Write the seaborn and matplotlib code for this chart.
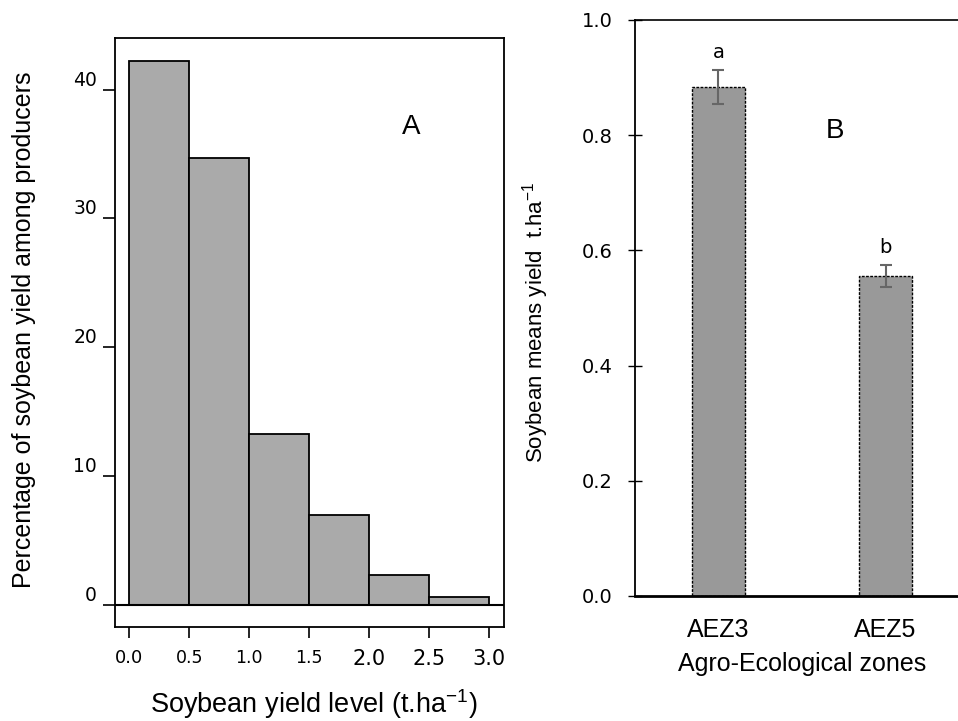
### Soybean yield figure - A: yield level distribution, B: mean yield by AEZ

import seaborn as sns
import matplotlib.pyplot as plt
import pandas as pd
import numpy as np

# --- data ---
bin_edges = [0.0, 0.5, 1.0, 1.5, 2.0, 2.5, 3.0]
pct_producers = [42.2, 34.7, 13.3, 7.0, 2.3, 0.6]
xtick_labels = ["0.0", "0.5", "1.0", "1.5", "2.0", "2.5", "3.0"]
xtick_sizes = [13, 12.5, 12.5, 12.5, 15, 15, 15]

zones = ["AEZ3", "AEZ5"]
zone_means = [0.884, 0.556]
zone_err = [0.030, 0.019]
zone_letters = ["a", "b"]

sns.set_theme(style="white")
plt.rcParams['font.family'] = ['Liberation Sans', 'DejaVu Sans']
plt.rcParams['mathtext.default'] = 'regular'
plt.rcParams['text.color'] = 'black'
plt.rcParams['axes.labelcolor'] = 'black'
plt.rcParams['xtick.color'] = 'black'
plt.rcParams['ytick.color'] = 'black'

fig = plt.figure(figsize=(9.58, 7.21), dpi=100)

# --- PANEL A: histogram ---
ax1 = fig.add_axes([0.120, 0.1304, 0.406, 0.8169])
centers = [(a + b) / 2 for a, b in zip(bin_edges[:-1], bin_edges[1:])]
df_a = pd.DataFrame({'yield': centers, 'pct': pct_producers})
sns.histplot(
    data=df_a, x='yield', weights='pct', bins=bin_edges, ax=ax1,
    color='#aaaaaa', edgecolor='black', linewidth=1.3, alpha=1
)
ax1.axhline(0, color='black', linewidth=1.5)
ax1.set_xlim(-0.12, 3.125)
ax1.set_ylim(-1.7, 44)
ax1.set_xticks(bin_edges)
ax1.set_xticklabels(xtick_labels, fontfamily='DejaVu Sans')
for lbl, fs in zip(ax1.get_xticklabels(), xtick_sizes):
    lbl.set_fontsize(fs)
ax1.set_yticks([0, 10, 20, 30, 40])
ax1.set_yticklabels(["0", "10", "20", "30", "40"], fontfamily='DejaVu Sans', fontsize=13.5)
for lbl in ax1.get_yticklabels():
    lbl.set_va('bottom')
ax1.tick_params(axis='x', direction='out', length=8, width=1.2, pad=8, bottom=True)
ax1.tick_params(axis='y', direction='out', length=9, width=1.2, pad=4, left=True)
for s in ax1.spines.values():
    s.set_color('black')
    s.set_linewidth(1.3)
ax1.set_xlabel("")
ax1.set_ylabel("")
ax1.text(2.35, 37.1, "A", ha='center', va='center', fontsize=20)

fig.text(314 / 958, 1 - 704 / 721, "Soybean yield level (t.ha$^{-1}$)",
         ha='center', va='center', fontsize=19.5)
fig.text(24 / 958, 1 - 330 / 721, "Percentage of soybean yield among producers",
         ha='center', va='center', rotation=90, fontsize=18)

# --- PANEL B: mean yield per zone ---
ax2 = fig.add_axes([0.6628, 0.1734, 0.3487, 0.7989])
df_b = pd.DataFrame({'zone': zones, 'mean': zone_means})
sns.barplot(
    data=df_b, x='zone', y='mean', ax=ax2, width=0.317,
    color='#999999', edgecolor='black', linewidth=1, saturation=1
)
for p in ax2.patches:
    p.set_linestyle((0, (2, 1)))
ax2.errorbar(range(len(zones)), zone_means, yerr=zone_err, fmt='none',
             ecolor='#666666', elinewidth=1.5, capsize=4, capthick=1.5)
for i, (m, e, t) in enumerate(zip(zone_means, zone_err, zone_letters)):
    ax2.text(i, m + e + 0.013, t, ha='center', va='bottom', fontsize=14,
             fontfamily='DejaVu Sans')
ax2.text(0.70, 0.807, "B", ha='center', va='center', fontsize=20)

ax2.set_xlim(-0.5, 1.5)
ax2.set_ylim(0, 1.0)
ax2.set_yticks([0.0, 0.2, 0.4, 0.6, 0.8, 1.0])
ax2.set_yticklabels(["0.0", "0.2", "0.4", "0.6", "0.8", "1.0"], fontfamily='DejaVu Sans', fontsize=14)
ax2.tick_params(axis='y', direction='inout', length=10, width=1.0, pad=11, left=True)
ax2.tick_params(axis='x', length=0, pad=16, labelsize=18)
ax2.spines['right'].set_visible(False)
ax2.spines['top'].set_linewidth(1.2)
ax2.spines['left'].set_linewidth(1.3)
ax2.spines['bottom'].set_linewidth(2)
for s in ax2.spines.values():
    s.set_color('black')
ax2.set_xlabel("Agro-Ecological zones", fontsize=18, labelpad=7)
ax2.set_ylabel("")

fig.text(536 / 958, 1 - 322 / 721, "Soybean means yield  t.ha$^{-1}$",
         ha='center', va='center', rotation=90, fontsize=16)

fig.savefig("out.png", dpi=100)
